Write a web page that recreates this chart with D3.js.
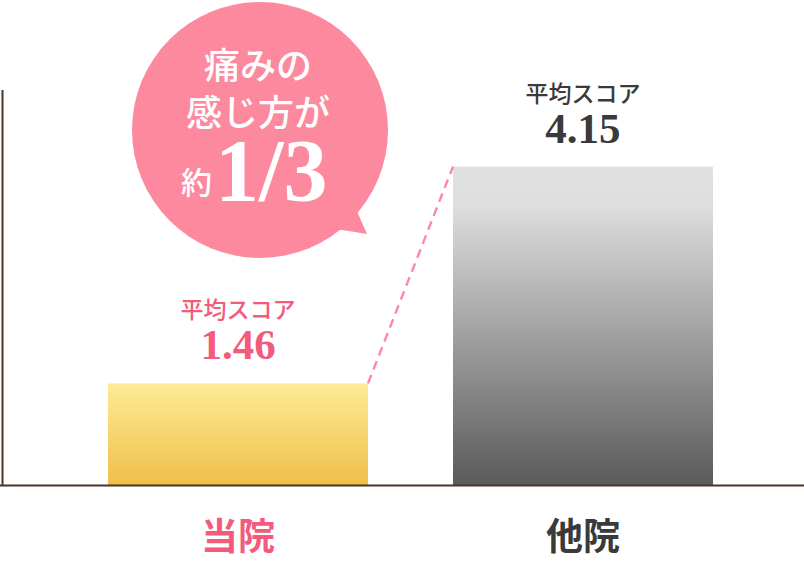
<!DOCTYPE html>
<html>
<head>
<meta charset="utf-8">
<script src="https://cdn.jsdelivr.net/npm/d3@7"></script>
<style>
  html, body { margin: 0; padding: 0; background: #fff; }
  svg { display: block; }
</style>
</head>
<body>
<script>
'use strict';

// chart data
var categories = ["当院", "他院"];
var scores = [1.46, 4.15];
var scoreLabels = ["1.46", "4.15"];
var scoreTitle = "平均スコア";
var bubbleLines = ["痛みの", "感じ方が"];
var bubbleRatio = "1/3";

(function() {

    var width = 804,
        height = 562;

    var jpFont = "'Noto Sans CJK JP', sans-serif",
        numFont = "'Liberation Serif', 'DejaVu Serif', serif";

    var pink = "#f45a7c",
        dark = "#3a3a3a",
        brown = "#4b3526",
        bubblePink = "#fc899e";

    var svg = d3.select("body")
        .append("svg")
        .attr("width", width)
        .attr("height", height);

    var defs = svg.append("defs");

    var gradYellow = defs.append("linearGradient")
        .attr("id", "gradYellow")
        .attr("x1", 0).attr("y1", 0).attr("x2", 0).attr("y2", 1);
    gradYellow.append("stop").attr("offset", "0%").attr("stop-color", "#fdeb96");
    gradYellow.append("stop").attr("offset", "100%").attr("stop-color", "#efbf49");

    var gradGray = defs.append("linearGradient")
        .attr("id", "gradGray")
        .attr("x1", 0).attr("y1", 0).attr("x2", 0).attr("y2", 1);
    gradGray.append("stop").attr("offset", "0%").attr("stop-color", "#e1e1e1");
    gradGray.append("stop").attr("offset", "12%").attr("stop-color", "#dedede");
    gradGray.append("stop").attr("offset", "100%").attr("stop-color", "#5a5a5a");

    var fills = ["url(#gradYellow)", "url(#gradGray)"];
    var textColors = [pink, dark];

    // scales
    var x = d3.scaleBand()
        .domain(categories)
        .range([23, 798])
        .paddingInner(0.2464)
        .paddingOuter(0.2464);

    var y = d3.scaleLinear()
        .domain([0.2, 5.1])
        .range([485, 90]);

    // vertical axis line
    svg.append("line")
        .attr("x1", 2.5).attr("x2", 2.5)
        .attr("y1", y.range()[1]).attr("y2", y.range()[0] + 1)
        .attr("stroke", brown)
        .attr("stroke-width", 2);

    // bars
    var bars = svg.append("g").attr("id", "bars");
    bars.selectAll("rect")
        .data(scores)
        .enter()
        .append("rect")
        .attr("x", function(d, i) { return x(categories[i]); })
        .attr("y", function(d) { return y(d); })
        .attr("width", x.bandwidth())
        .attr("height", function(d) { return y.range()[0] - y(d); })
        .attr("fill", function(d, i) { return fills[i]; });

    // baseline
    svg.append("line")
        .attr("x1", 0).attr("x2", width)
        .attr("y1", 485.5).attr("y2", 485.5)
        .attr("stroke", brown)
        .attr("stroke-width", 2);

    // dashed connector between bar tops
    svg.append("line")
        .attr("x1", x(categories[0]) + x.bandwidth())
        .attr("y1", y(scores[0]))
        .attr("x2", x(categories[1]))
        .attr("y2", y(scores[1]))
        .attr("stroke", bubblePink)
        .attr("stroke-width", 2.4)
        .attr("stroke-dasharray", "9,6");

    // value labels
    var labels = svg.append("g").attr("id", "labels");
    labels.selectAll("text.title")
        .data(scores)
        .enter()
        .append("text")
        .attr("class", "title")
        .attr("x", function(d, i) { return x(categories[i]) + x.bandwidth() / 2; })
        .attr("y", function(d) { return y(d) - 65; })
        .attr("text-anchor", "middle")
        .attr("font-family", jpFont)
        .attr("font-weight", 500)
        .attr("font-size", 23)
        .attr("fill", function(d, i) { return textColors[i]; })
        .text(scoreTitle);

    labels.selectAll("text.value")
        .data(scores)
        .enter()
        .append("text")
        .attr("class", "value")
        .attr("x", function(d, i) { return x(categories[i]) + x.bandwidth() / 2; })
        .attr("y", function(d) { return y(d) - 24; })
        .attr("text-anchor", "middle")
        .attr("font-family", numFont)
        .attr("font-weight", "bold")
        .attr("font-size", 43)
        .attr("fill", function(d, i) { return textColors[i]; })
        .text(function(d, i) { return scoreLabels[i]; });

    // category labels
    labels.selectAll("text.cat")
        .data(categories)
        .enter()
        .append("text")
        .attr("class", "cat")
        .attr("x", function(d) { return x(d) + x.bandwidth() / 2; })
        .attr("y", 550)
        .attr("text-anchor", "middle")
        .attr("font-family", jpFont)
        .attr("font-weight", "bold")
        .attr("font-size", 37)
        .attr("fill", function(d, i) { return textColors[i]; })
        .text(function(d) { return d; });

    // speech bubble
    var bubble = svg.append("g").attr("id", "bubble");
    var cx = 260, cy = 130, r = 128;

    bubble.append("circle")
        .attr("cx", cx).attr("cy", cy).attr("r", r)
        .attr("fill", bubblePink);

    bubble.append("path")
        .attr("d", "M352,200 L367,234 L330,228 Z")
        .attr("fill", bubblePink);

    bubble.selectAll("text.line")
        .data(bubbleLines)
        .enter()
        .append("text")
        .attr("class", "line")
        .attr("x", cx - 2)
        .attr("y", function(d, i) { return 79 + i * 47; })
        .attr("text-anchor", "middle")
        .attr("font-family", jpFont)
        .attr("font-weight", 500)
        .attr("font-size", 36)
        .attr("fill", "#fff")
        .text(function(d) { return d; });

    var ratio = bubble.append("text")
        .attr("x", 181)
        .attr("y", 200)
        .attr("text-anchor", "start")
        .attr("fill", "#fff");
    ratio.append("tspan")
        .attr("font-family", jpFont)
        .attr("font-weight", 500)
        .attr("font-size", 31)
        .attr("dy", -6)
        .text("約");
    ratio.append("tspan")
        .attr("font-family", numFont)
        .attr("font-weight", "bold")
        .attr("font-size", 88)
        .attr("dx", 3)
        .attr("dy", 6)
        .text(bubbleRatio);

})();
</script>
</body>
</html>
